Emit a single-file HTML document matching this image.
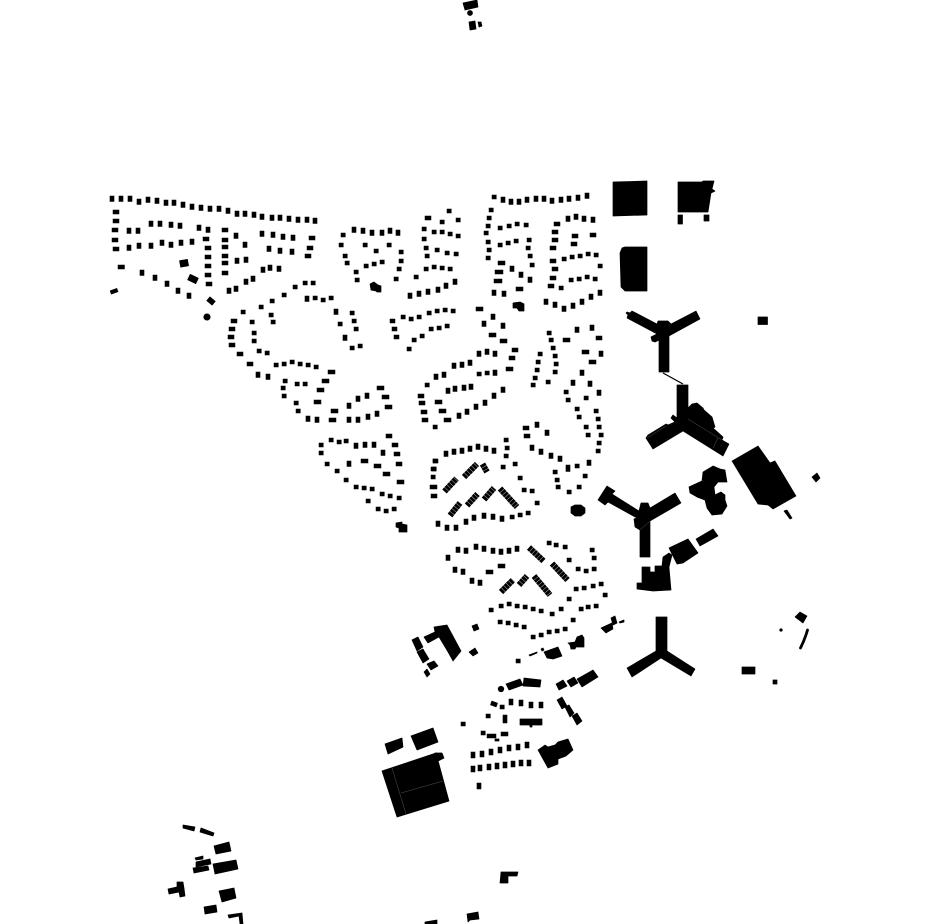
<!DOCTYPE html>
<html><head><meta charset="utf-8"><style>html,body{margin:0;padding:0;background:#fff}svg{display:block}</style></head><body>
<svg xmlns="http://www.w3.org/2000/svg" width="930" height="924" viewBox="0 0 930 924">
<rect width="930" height="924" fill="#fff"/>
<!-- tall dots -->
<path fill="none" stroke="#000" stroke-width="4.600" stroke-linecap="square" d="M112 198v1.5M121 198v1.5M130 198v1.5M139 201v1.5M148 199v1.5M157 200v1.5M166 202v1.5M174 202v1.5M183 204v1.5M192 206v1.5M201 207v1.5M210 208v1.5M219 208v1.5M228 210v1.5M237 213v1.5M245 213v1.5M254 214v1.5M262 216v1.5M272 217v1.5M280 217v1.5M289 218v1.5M298 219v1.5M307 219v1.5M315 220v1.5M129 230v1.5M138 230v1.5M151 223v1.5M160 223v1.5M171 224v1.5M180 225v1.5M199 227v1.5M208 229v1.5M129 247v1.5M139 245v1.5M151 245v1.5M162 242v1.5M171 244v1.5M181 242v1.5M192 241v1.5M236 235v1.5M245 244v1.5M237 260v1.5M246 259v1.5M262 233v1.5M273 234v1.5M283 236v1.5M293 237v1.5M269 248v1.5M280 250v1.5M292 251v1.5M263 269v1.5M270 267v1.5M279 268v1.5M253 278v1.5M246 281v1.5M236 288v1.5M229 290v1.5M142 272v1.5M155 277v1.5M167 283v1.5M178 290v1.5M189 295v1.5M307 298v1.5M336 311v1.5M345 337v1.5M258 374v1.5M268 376v1.5M308 418v1.5M317 419v1.5M349 405v1.5M358 398v1.5M367 395v1.5M377 413v1.5M368 416v1.5M358 419v1.5M349 419v1.5M354 229v1.5M363 230v1.5M372 232v1.5M382 232v1.5M390 230v1.5M398 232v1.5M410 295v1.5M419 293v1.5M428 291v1.5M438 289v1.5M446 285v1.5M455 281v1.5M503 199v1.5M511 201v1.5M519 201v1.5M527 199v1.5M536 198v1.5M544 198v1.5M552 200v1.5M561 199v1.5M569 198v1.5M578 197v1.5M587 195v1.5M512 268v1.5M521 274v1.5M530 279v1.5M494 292v1.5M504 293v1.5M568 218v1.5M576 216v1.5M584 218v1.5M593 219v1.5M546 301v1.5M555 304v1.5M564 308v1.5M573 305v1.5M582 301v1.5M591 296v1.5M600 292v1.5M493 316v1.5M484 323v1.5M503 325v1.5M479 353v1.5M487 351v1.5M495 353v1.5M577 329v1.5M592 327v1.5M601 353v1.5M436 376v1.5M444 374v1.5M459 415v1.5M467 411v1.5M476 406v1.5M485 402v1.5M494 395v1.5M503 389v1.5M448 390v1.5M455 388v1.5M464 387v1.5M471 386v1.5M470 362v1.5M462 364v1.5M454 365v1.5M495 372v1.5M582 372v1.5M573 382v1.5M590 383v1.5M599 392v1.5M537 424v1.5M547 432v1.5M532 447v1.5M541 451v1.5M551 455v1.5M560 458v1.5M568 467v1.5M589 462v1.5M356 445v1.5M365 444v1.5M374 444v1.5M383 452v1.5M349 463v1.5M446 453v1.5M454 451v1.5M462 450v1.5M470 448v1.5M478 446v1.5M486 448v1.5M494 450v1.5M502 518v1.5M493 516v1.5M484 515v1.5M474 517v1.5M466 521v1.5M456 527v1.5M447 527v1.5M438 523v1.5M568 468v1.5M458 549v1.5M466 550v1.5M476 546v1.5M484 548v1.5M493 550v1.5M501 551v1.5M509 550v1.5M517 548v1.5M448 557v1.5M455 569v1.5M463 571v1.5M472 580v1.5M480 582v1.5M511 701v2M521 702v2M531 704v2M541 704v2M473 754v2M482 753v2M491 751v2M500 749v2M509 747v2M518 746v2M527 744v2M473 768v2M480 767v2M489 766v2M497 765v2M505 764v2M513 763v2M521 762v2M529 762v2M479 785v2M505 717v4"/>
<!-- square dots -->
<path fill="none" stroke="#000" stroke-width="4.500" stroke-linecap="square" d="M305 283h.3M313 283h.3M295 287h.3M284 295h.3M272 301h.3M261 307h.3M243 312h.3M315 298h.3M323 300h.3M331 298h.3M271 315h.3M273 322h.3M252 322h.3M254 333h.3M254 341h.3M259 351h.3M267 353h.3M276 365h.3M284 364h.3M292 362h.3M300 364h.3M308 365h.3M316 367h.3M285 381h.3M283 388h.3M284 396h.3M297 384h.3M305 384h.3M296 403h.3M298 411h.3M352 313h.3M354 321h.3M340 324h.3M356 329h.3M352 348h.3M360 346h.3M343 235h.3M341 245h.3M345 256h.3M347 263h.3M356 272h.3M357 280h.3M365 245h.3M376 251h.3M389 245h.3M401 252h.3M401 261h.3M399 269h.3M396 279h.3M366 266h.3M374 264h.3M382 262h.3M449 211h.3M442 222h.3M458 220h.3M424 229h.3M434 232h.3M442 232h.3M450 234h.3M458 236h.3M424 239h.3M426 248h.3M437 250h.3M447 253h.3M456 254h.3M427 256h.3M426 269h.3M434 267h.3M442 268h.3M450 269h.3M416 277h.3M403 317h.3M411 319h.3M419 317h.3M429 313h.3M437 311h.3M445 310h.3M453 311h.3M431 329h.3M439 328h.3M447 326h.3M422 336h.3M414 340h.3M409 349h.3M494 197h.3M491 210h.3M489 218h.3M488 226h.3M486 233h.3M488 242h.3M489 250h.3M488 258h.3M500 228h.3M509 226h.3M517 224h.3M526 225h.3M500 245h.3M508 243h.3M516 241h.3M529 240h.3M528 248h.3M530 256h.3M532 265h.3M564 259h.3M572 257h.3M580 256h.3M588 254h.3M596 255h.3M600 266h.3M571 280h.3M579 279h.3M587 277h.3M595 279h.3M561 288h.3M549 333h.3M551 340h.3M553 348h.3M555 356h.3M540 354h.3M538 362h.3M537 370h.3M535 378h.3M533 385h.3M548 382h.3M556 364h.3M555 372h.3M487 373h.3M479 374h.3M427 385h.3M435 427h.3M566 392h.3M568 400h.3M586 398h.3M577 409h.3M579 417h.3M596 411h.3M598 419h.3M599 427h.3M601 435h.3M599 443h.3M598 451h.3M586 427h.3M588 435h.3M577 466h.3M506 440h.3M507 448h.3M506 456h.3M503 467h.3M515 464h.3M321 445h.3M321 453h.3M331 440h.3M339 442h.3M346 441h.3M327 464h.3M337 471h.3M346 480h.3M356 487h.3M364 488h.3M372 489h.3M382 494h.3M390 496h.3M399 498h.3M368 501h.3M378 509h.3M386 511h.3M394 509h.3M435 461h.3M434 469h.3M433 477h.3M520 478h.3M524 490h.3M532 491h.3M537 503h.3M528 513h.3M520 515h.3M512 517h.3M555 472h.3M557 480h.3M558 487h.3M569 492h.3M579 487h.3M585 476h.3M549 543h.3M556 545h.3M565 547h.3M592 550h.3M594 558h.3M569 560h.3M578 569h.3M586 571h.3M594 569h.3M576 589h.3M584 588h.3M593 586h.3M601 584h.3M605 595h.3M569 599h.3M491 610h.3M501 606h.3M509 604h.3M517 606h.3M525 607h.3M533 609h.3M541 611h.3M552 614h.3M561 609h.3M581 609h.3M588 607h.3M596 606h.3M573 620h.3M500 622h.3M508 623h.3M516 625h.3M524 627h.3M533 637h.3M541 635h.3M549 632h.3M557 631h.3M565 629h.3M518 661h.3M502 707h.3M483 733h.3M463 724h.3M488 716h.3"/>
<!-- wide dots -->
<path fill="none" stroke="#000" stroke-width="4.500" stroke-linecap="square" d="M120 267h2.500M115 212h2M115 221h2M114 230h2M114 240h2M115 249h2M224 230h2M224 240h2M224 247h2M224 256h2M224 263h2M224 273h2M205 239h2M207 248h2M207 257h2M207 266h2M207 275h2M208 284h2M311 238h2M309 248h2M307 256h2M233 321h2M231 329h2M230 337h2M231 345h2M239 354h2M249 364h2M330 372h3M324 381h3M319 390h3M316 402h3M333 411h3M331 420h3M379 388h3M384 397h3M387 407h3M427 218h2M392 321h1M394 329h1M396 337h1M500 263h3M497 272h4M496 281h4M518 289h3M478 309h3M491 335h3M502 341h3M514 350h2M511 358h2M508 369h3M556 224h2M554 232h2M554 240h2M552 248h2M552 261h2M554 269h2M552 278h2M550 286h2M574 236h2M573 244h2M592 235h2M565 340h3M598 338h2M584 352h3M591 362h3M420 396h2M421 403h2M423 412h2M424 420h2M437 402h3M441 411h3M446 420h3M525 428h2M526 436h2M388 436h2M394 445h2M396 454h2M398 464h2M363 461h3M376 466h3M385 474h3M399 482h3M432 487h3M433 496h2M435 461h1M433 469h1M488 572h3M500 566h3M489 736h5M503 734h3"/>
<!-- hatched buildings -->
<g fill="none" stroke="#000" stroke-width="6" stroke-dasharray="3 .35">
<path d="M444.500 491.500L456.500 478.500"/><path d="M464 477L477 464"/><path d="M482.500 464L487 472"/><path d="M450 515.500L460 503"/><path d="M467 505.500L477.500 494"/><path d="M484 499.500L494 488"/><path d="M500 488.500L517 507"/><path d="M529 547.500L543.500 561"/><path d="M552 563.500L567.500 580"/><path d="M501 592L513 580"/><path d="M519 585L527 576"/><path d="M534 576L550 595"/>
</g>
<g fill="#000" stroke="#000" stroke-width=".7" stroke-linejoin="round">
<!-- top -->
<polygon points="463,3 477,0 478,7 465,10"/><circle cx="470" cy="13" r="2.500"/><polygon points="469,22 475,21 476,29 470,30"/><polygon points="478,22 481,22 482,26 479,27"/>
<!-- small rotated -->
<rect x="180" y="260" width="8" height="6.500" transform="rotate(-10 184 263)"/>
<rect x="188.500" y="276" width="9" height="6" transform="rotate(25 193 279)"/>
<rect x="207.500" y="298.500" width="7" height="5" transform="rotate(40 211 301)"/>
<circle cx="207" cy="317" r="3.200"/>
<rect x="110.500" y="289.500" width="7" height="3.500" transform="rotate(-20 114 291)"/>
<polygon points="370,284 374,282 378,285 381,286 381,292 377,292 376,291 371,290"/>
<polygon points="513,303 520,302 524,304 524,311 519,311 517,308 513,308"/>
<polygon points="396,523 402,522 402,524 407,525 407,532 399,532 399,528 396,527"/>
<polygon points="571,507 575,505 581,505 585,508 585,513 581,516 575,516 571,513"/>
<!-- right buildings -->
<polygon points="613,182 647,181 647,215 613,216"/>
<polygon points="678,182 702,182 703,181 714,181 712,189 715,191 711,193 708,212 678,212"/>
<rect x="678" y="215" width="4.500" height="9"/><rect x="704" y="215" width="5" height="6"/>
<polygon points="625,247 647,247 647,291 625,291 621,287 620,253 622,248"/>
<polygon points="628,315 626,313 627,312 630,313 632,311 657,324 658,321 668,321 671,324 696,311 700,319 669,336 669,372 659,372 659,340 655,342 652,341 651,337 655,335 657,334 627,318"/>
<polygon points="677,385 688,385 688,408 692,404 697,403 703,408 704,410 712,417 715,427 713,428 723,437 722,440 729,444 723,456 683,431 653,449 646,438 648,435 666,424 668,425 675,422 671,418 673,415 677,418"/>
<rect x="758" y="317" width="9.500" height="7.500"/>
<polygon points="732,461 758,446 770,463 775,461 796,496 773,509 768,505 758,504"/>
<polygon points="784,511 787,510 792,518 790,519"/>
<polygon points="812,477 817,473 820,478 816,482"/>
<polygon points="689,487 702,481 703,472 713,466 720,469 725,470 727,482 718,482 714,487 715,495 721,492 725,495 725,500 727,506 722,514 712,515 707,508 705,500 697,497 690,493"/>
<polygon points="598,500 607,486 615,491 612,494 639,511 641,503 648,503 650,508 675,493 681,503 650,521 650,557 640,557 640,530 635,527 634,519 637,518 608,502 605,505"/>
<polygon points="669,548 688,539 698,553 683,563 677,564"/>
<polygon points="696,539 713,529 718,536 700,546"/>
<polygon points="663,557 669,553 672,555 669,567 671,590 653,591 637,589 637,583 642,583 642,567 650,567 650,572 655,572 655,566 662,566"/>
<polygon points="656,617 667,617 667,651 695,669 691,676 661,658 632,677 627,668 656,651"/>
<polygon points="795,617 800,612 807,616 803,623"/><circle cx="781" cy="630" r="1.300"/>
<rect x="742" y="667" width="13" height="7"/><rect x="773" y="680" width="4" height="4"/>
<!-- mid -->
<polygon points="601,628 612,623 613,629 606,633"/><polygon points="611,618 615,616 617,623 613,625"/><polygon points="619,622 624,620 624,622 620,623"/>
<polygon points="568,643 575,642 577,637 582,635 584,638 584,647 576,647 575,649 571,649 570,645"/>
<polygon points="529,655 537,652 537,653 530,656"/><polygon points="541,649 543,648 544,650 542,651"/>
<polygon points="544,652 558,647 562,656 553,659 547,658"/>
<polygon points="424,637 435,632 434,627 447,625 461,651 453,661 448,652 439,637 428,643"/>
<polygon points="412,640 418,637 423,647 417,651"/><polygon points="417,652 423,649 429,659 423,663"/><polygon points="427,664 434,661 438,666 431,670"/><polygon points="424,672 427,669 430,674 427,677"/>
<polygon points="469,652 475,648 478,653 473,656"/><polygon points="472,626 477,624 479,629 474,631"/>
<circle cx="501" cy="689" r="2.800"/>
<polygon points="506,684 520,679 523,685 509,690"/><polygon points="524,678 541,680 540,687 523,686"/>
<polygon points="556,684 563,680 567,686 559,690"/><polygon points="567,681 574,677 578,683 571,687"/><polygon points="577,679 593,670 598,677 582,687"/>
<polygon points="557,700 562,697 567,706 562,709"/><polygon points="565,707 569,705 574,713 570,717"/><polygon points="572,716 577,713 582,721 577,725"/>
<rect x="491" y="702" width="6" height="4" transform="rotate(20 494 704)"/>
<polygon points="520,719 542,719 542,725 532,725 532,727 530,727 530,725 520,725"/>
<rect x="495" y="739" width="4" height="2"/>
<polygon points="538,750 545,745 548,747 555,745 558,742 568,739 573,750 566,756 558,759 558,764 548,768"/>
<polygon points="385,744 402,738 403,747 388,754"/><polygon points="411,736 433,728 438,742 417,750"/>
<polygon points="382,771 436,753 449,801 397,817"/><polygon points="435,753 442,753 444,758 438,761"/>
<!-- bottom left -->
<polygon points="183,825 195,827 194,831 183,828"/><polygon points="201,828 214,833 213,836 200,832"/>
<polygon points="214,846 229,842 231,851 216,854"/><polygon points="195,858 203,856 203,859 196,860"/>
<polygon points="196,862 210,859 211,864 196,867"/><polygon points="193,868 208,866 209,870 194,873"/>
<polygon points="213,864 236,860 238,869 215,874"/>
<polygon points="168,889 177,887 177,882 183,882 184,888 185,896 180,897 179,892 169,894"/>
<polygon points="219,891 234,888 236,898 222,902"/><polygon points="204,907 216,905 217,912 205,914"/>
<polygon points="228,915 242,913 243,924 240,924 239,916 229,918"/>
<polygon points="501,872 518,872 517,876 508,876 508,883 500,883"/>
<polygon points="467,914 478,912 479,919 470,920 468,922"/>
<polygon points="425,922 437,920 437,924 425,924"/>
</g>
<path d="M663 373L683 384" stroke="#000" stroke-width="1.200" fill="none"/>
<path d="M807.500 630Q805 639 800.500 648" stroke="#000" stroke-width="2.800" stroke-linecap="round" fill="none"/>
<g stroke="#555" stroke-width=".5" fill="none"><path d="M392 768L406 814M401 793L443 781M688 419L722 440M713 448L718 438M647 438L666 426M650 521L640 530"/></g>
</svg>
</body></html>
